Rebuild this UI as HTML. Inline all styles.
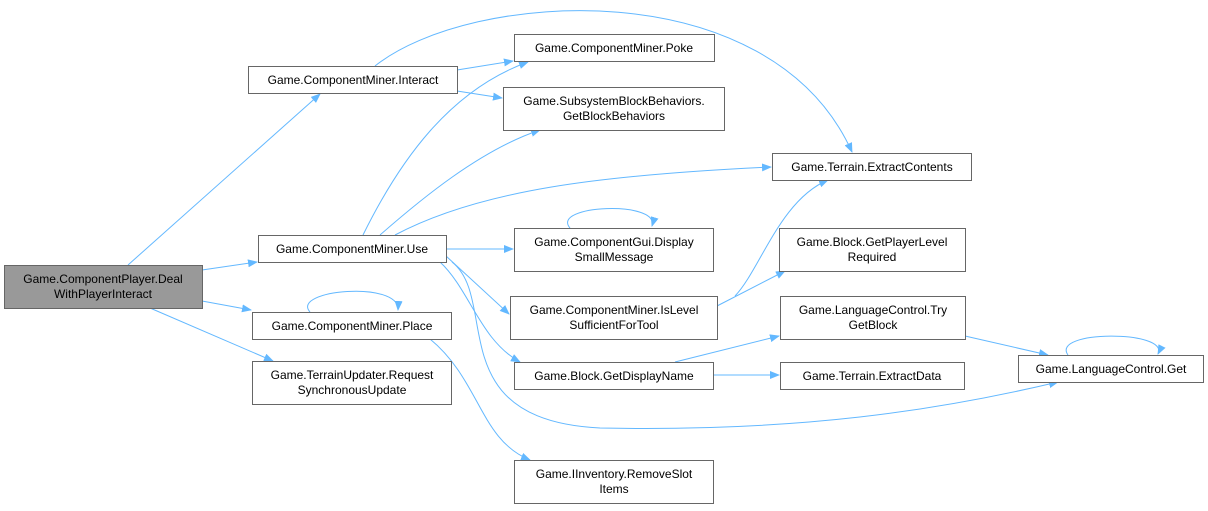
<!DOCTYPE html>
<html><head><meta charset="utf-8"><style>
html,body{margin:0;padding:0;background:#fff;}
svg{display:block;}
text{font-family:"Liberation Sans",Arial,sans-serif;font-size:12px;fill:#000;}
</style></head><body>
<svg width="1208" height="511" viewBox="0 0 1208 511" xmlns="http://www.w3.org/2000/svg">
<defs><marker id="a" markerWidth="10" markerHeight="8" refX="9" refY="4" orient="auto" markerUnits="userSpaceOnUse"><path d="M0,0 L10,4 L0,8 z" fill="#63b8ff"/></marker></defs>
<g fill="none" stroke="#63b8ff" stroke-width="1" marker-end="url(#a)">
<path d="M128,265 L320,94"/>
<path d="M202,270 L257,262"/>
<path d="M202,301 L251,310"/>
<path d="M150,308 L273,361"/>
<path d="M457,70 L513,61"/>
<path d="M457,91 L502,98"/>
<path d="M375,66 C470,-10 770,-30 852,152"/>
<path d="M363,235 C400,160 450,90 528,62"/>
<path d="M380,235 C420,200 480,150 540,130"/>
<path d="M395,235 C480,190 600,175 771,167"/>
<path d="M446,249 L513,249"/>
<path d="M446,256 L509,314"/>
<path d="M440,262 C470,290 480,340 520,362"/>
<path d="M452,262 C500,300 440,420 600,428 C800,432 940,410 1058,382"/>
<path d="M430,339 C480,380 480,440 530,460"/>
<path d="M310,312 C290,290 400,280 398,310"/>
<path d="M570,228 C550,205 660,200 652,226"/>
<path d="M735,296 C760,270 780,200 828,180"/>
<path d="M717,306 L785,271"/>
<path d="M675,362 L779,336"/>
<path d="M713,375 L779,375"/>
<path d="M965,336 L1048,355"/>
<path d="M1068,355 C1050,330 1170,330 1158,354"/>
</g>
<g stroke="#666" stroke-width="1" fill="#fff">
<rect x="4.5" y="265.5" width="198" height="43" fill="#999"/>
<rect x="248.5" y="66.5" width="209" height="27"/>
<rect x="258.5" y="235.5" width="188" height="27"/>
<rect x="252.5" y="312.5" width="199" height="27"/>
<rect x="252.5" y="361.5" width="199" height="43"/>
<rect x="514.5" y="34.5" width="200" height="27"/>
<rect x="503.5" y="87.5" width="221" height="43"/>
<rect x="772.5" y="153.5" width="199" height="27"/>
<rect x="514.5" y="228.5" width="199" height="43"/>
<rect x="779.5" y="228.5" width="186" height="43"/>
<rect x="510.5" y="296.5" width="207" height="43"/>
<rect x="780.5" y="296.5" width="185" height="43"/>
<rect x="514.5" y="362.5" width="199" height="27"/>
<rect x="780.5" y="362.5" width="184" height="27"/>
<rect x="1018.5" y="355.5" width="185" height="27"/>
<rect x="514.5" y="460.5" width="199" height="43"/>
</g>
<g text-anchor="middle">
<text x="103" y="283">Game.ComponentPlayer.Deal</text><text x="103" y="298">WithPlayerInteract</text>
<text x="353" y="84">Game.ComponentMiner.Interact</text>
<text x="352" y="253">Game.ComponentMiner.Use</text>
<text x="352" y="330">Game.ComponentMiner.Place</text>
<text x="352" y="379">Game.TerrainUpdater.Request</text><text x="352" y="394">SynchronousUpdate</text>
<text x="614" y="52">Game.ComponentMiner.Poke</text>
<text x="614" y="105">Game.SubsystemBlockBehaviors.</text><text x="614" y="120">GetBlockBehaviors</text>
<text x="872" y="171">Game.Terrain.ExtractContents</text>
<text x="614" y="246">Game.ComponentGui.Display</text><text x="614" y="261">SmallMessage</text>
<text x="872" y="246">Game.Block.GetPlayerLevel</text><text x="872" y="261">Required</text>
<text x="614" y="314">Game.ComponentMiner.IsLevel</text><text x="614" y="329">SufficientForTool</text>
<text x="873" y="314">Game.LanguageControl.Try</text><text x="873" y="329">GetBlock</text>
<text x="614" y="380">Game.Block.GetDisplayName</text>
<text x="872" y="380">Game.Terrain.ExtractData</text>
<text x="1111" y="373">Game.LanguageControl.Get</text>
<text x="614" y="478">Game.IInventory.RemoveSlot</text><text x="614" y="493">Items</text>
</g>
</svg>
</body></html>
